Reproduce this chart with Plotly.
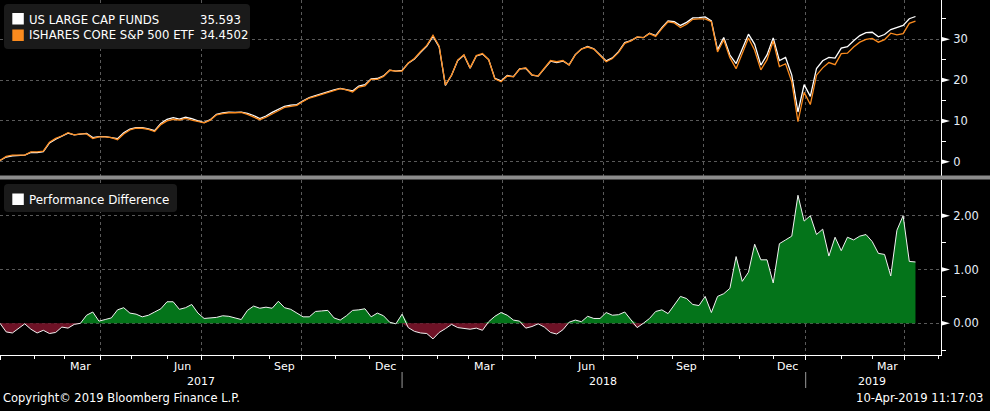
import pandas as pd
import plotly.graph_objects as go

# ---------------- data ----------------
# iShares Core S&P 500 ETF, cumulative return %, sampled every 4 business days
etf = [0.3, 1.3, 1.6, 1.6, 1.6, 2.4, 2.4, 2.6, 4.8, 5.7,
       6.3, 7.1, 6.6, 6.8, 6.8, 5.7, 6.1, 6.1, 5.9, 5.4,
       6.8, 7.8, 8.2, 8.2, 7.9, 7.4, 9.1, 10.0, 10.4, 10.2,
       10.6, 10.2, 9.8, 9.5, 10.2, 11.5, 11.8, 12.0, 12.0, 12.1,
       11.6, 11.0, 10.3, 10.9, 11.8, 12.5, 13.3, 13.6, 13.8, 14.8,
       15.6, 16.0, 16.5, 17.0, 17.5, 17.9, 17.6, 17.1, 18.3, 18.6,
       20.2, 20.2, 20.9, 22.4, 22.2, 22.2, 24.2, 25.3, 27.0, 28.5,
       31.0, 28.3, 18.8, 21.2, 24.9, 26.2, 23.0, 26.0, 26.5, 25.0,
       20.3, 19.6, 21.0, 20.8, 22.7, 23.0, 21.3, 21.0, 22.9, 24.8,
       24.5, 24.8, 23.7, 26.2, 27.6, 28.1, 27.6, 26.0, 24.5, 25.3,
       26.8, 29.0, 29.6, 30.6, 30.4, 31.4, 30.7, 32.6, 34.3, 34.0,
       32.9, 33.7, 34.9, 35.0, 35.0, 34.3, 26.9, 29.9, 25.5, 22.8,
       26.7, 30.3, 27.3, 22.5, 25.0, 29.6, 23.3, 24.0, 19.6, 9.8,
       17.0, 14.0, 21.2, 23.0, 24.3, 23.8, 26.5, 26.6, 28.1, 29.3,
       30.0, 30.2, 29.3, 29.9, 31.5, 31.1, 31.4, 33.9, 34.45]

# Performance difference (US Large Cap Funds minus ETF), same dates
perf_diff = [0.0, -0.16, -0.18, -0.09, -0.01, -0.11, -0.18, -0.13, -0.19, -0.17,
             -0.07, -0.09, -0.02, 0.0, 0.15, 0.21, 0.04, 0.07, 0.10, 0.25,
             0.29, 0.19, 0.17, 0.12, 0.15, 0.21, 0.27, 0.40, 0.40, 0.26,
             0.29, 0.35, 0.19, 0.09, 0.10, 0.11, 0.14, 0.13, 0.10, 0.07,
             0.24, 0.32, 0.28, 0.30, 0.28, 0.41, 0.29, 0.26, 0.19, 0.12,
             0.12, 0.22, 0.23, 0.24, 0.10, 0.06, 0.14, 0.24, 0.25, 0.27,
             0.12, 0.19, 0.14, 0.02, -0.01, 0.17, -0.08, -0.15, -0.18, -0.19,
             -0.29, -0.17, -0.10, -0.02, -0.08, -0.10, -0.11, -0.09, -0.13, 0.03,
             0.13, 0.20, 0.15, 0.06, 0.04, -0.09, -0.06, -0.01, -0.07, -0.17,
             -0.20, -0.12, 0.02, 0.06, 0.03, 0.13, 0.09, 0.09, 0.20, 0.15,
             0.16, 0.21, 0.07, -0.08, 0.0, 0.09, 0.22, 0.25, 0.18, 0.33,
             0.50, 0.46, 0.35, 0.33, 0.50, 0.20, 0.50, 0.55, 0.65, 1.24,
             0.78, 0.95, 1.47, 1.18, 1.18, 0.75, 1.48, 1.55, 1.62, 2.38,
             1.90, 2.00, 1.65, 1.75, 1.25, 1.60, 1.35, 1.60, 1.55, 1.62,
             1.65, 1.52, 1.30, 1.28, 0.88, 1.73, 2.00, 1.15, 1.14]

funds_name = "US LARGE CAP FUNDS"
etf_name = "ISHARES CORE S&P 500 ETF"
funds_last = "35.593"
etf_last = "34.4502"
diff_name = "Performance Difference"

top_ticks = [0, 10, 20, 30]
top_minor = [5, 15, 25, 35]
bot_ticks = [0, 1, 2]
bot_minor = [-0.5, 0.5, 1.5]

month_labels = ["Mar", "Jun", "Sep", "Dec", "Mar", "Jun", "Sep", "Dec", "Mar"]
month_label_dates = ["2017-03-15", "2017-06-15", "2017-09-15", "2017-12-15",
                     "2018-03-15", "2018-06-15", "2018-09-14", "2018-12-14",
                     "2019-03-15"]
year_labels = ["2017", "2018", "2019"]
year_label_dates = ["2017-07-03", "2018-07-02", "2019-03-01"]
year_bounds = ["2018-01-01", "2019-01-01"]

copyright_text = "Copyright\u00a9 2019 Bloomberg Finance L.P."
stamp_text = "10-Apr-2019 11:17:03"

# ---------------- derived ----------------
dates = pd.bdate_range(end="2019-04-10", periods=len(etf), freq="4B")
funds = [round(e + d, 4) for e, d in zip(etf, perf_diff)]
diff_pos = [max(d, 0) for d in perf_diff]
diff_neg = [min(d, 0) for d in perf_diff]

bday = pd.offsets.BDay()
quarter_starts = [bday.rollforward(d) for d in pd.date_range("2017-01-01", "2019-04-01", freq="QS")]
month_starts = [bday.rollforward(d) for d in pd.date_range("2017-01-01", "2019-05-01", freq="MS")]

# ---------------- layout helpers ----------------
W, H = 990, 411
ML, MR, MT, MB = 0, 49, 0, 56
PW = W - ML - MR
PH = H - MT - MB


def px(x):
    return x / PW


def py(y):
    return 1 - y / PH


def rounded_box(x0, y0, x1, y1, r=4):
    # pixel path relative to the top-left paper corner (y up is positive)
    a, b, c, d = x0, -y0, x1, -y1
    return (f"M{a + r},{b} L{c - r},{b} Q{c},{b} {c},{b - r} "
            f"L{c},{d + r} Q{c},{d} {c - r},{d} L{a + r},{d} "
            f"Q{a},{d} {a},{d + r} L{a},{b - r} Q{a},{b} {a + r},{b} Z")


FONT = "DejaVu Sans, sans-serif"
TXT = "#ffffff"
TICK_TXT = "#e6eef8"
GRID = "#5a5a5a"
ORANGE = "#fb8b1e"
GREEN = "#04741a"
MAROON = "#6e1226"

fig = go.Figure()

# top panel
fig.add_trace(go.Scatter(x=dates, y=funds, mode="lines", name=funds_name,
                         line=dict(color="#ffffff", width=1.3), xaxis="x", yaxis="y"))
fig.add_trace(go.Scatter(x=dates, y=etf, mode="lines", name=etf_name,
                         line=dict(color=ORANGE, width=1.3), xaxis="x", yaxis="y"))
# bottom panel
fig.add_trace(go.Scatter(x=dates, y=diff_pos, mode="lines", fill="tozeroy",
                         fillcolor=GREEN, line=dict(color="rgba(0,0,0,0)", width=0),
                         xaxis="x", yaxis="y2", showlegend=False))
fig.add_trace(go.Scatter(x=dates, y=diff_neg, mode="lines", fill="tozeroy",
                         fillcolor=MAROON, line=dict(color="rgba(0,0,0,0)", width=0),
                         xaxis="x", yaxis="y2", showlegend=False))
fig.add_trace(go.Scatter(x=dates, y=perf_diff, mode="lines", name=diff_name,
                         line=dict(color="#f2f2f2", width=1.0), xaxis="x", yaxis="y2"))

top_lo = (161.7 - 176) / 4.08
top_hi = 161.7 / 4.08
bot_lo = (323.3 - 355) / 53.8
bot_hi = (323.3 - 179.5) / 53.8

yaxis_common = dict(
    side="right", anchor="x", showline=True, linecolor="#ffffff", linewidth=1,
    ticks="", showgrid=True, gridcolor=GRID, griddash="dot", gridwidth=1,
    zeroline=False, ticklabelstandoff=9,
    tickfont=dict(family=FONT, size=11.5, color=TICK_TXT),
)

fig.update_layout(
    width=W, height=H,
    margin=dict(l=ML, r=MR, t=MT, b=MB, pad=0),
    paper_bgcolor="#000000", plot_bgcolor="#000000",
    showlegend=False, hovermode=False,
    xaxis=dict(
        type="date", range=["2017-01-02", "2019-05-02 12:00"],
        rangebreaks=[dict(bounds=["sat", "mon"])],
        anchor="y2", showline=True, linecolor="#ffffff", linewidth=1,
        tickmode="array", tickvals=quarter_starts, showticklabels=False,
        ticks="outside", ticklen=4, tickcolor="#ffffff", tickwidth=1,
        showgrid=True, gridcolor=GRID, griddash="dot", gridwidth=1,
        zeroline=False,
        minor=dict(tickmode="array", tickvals=month_starts, ticks="outside",
                   ticklen=3, tickcolor="#ffffff", showgrid=False),
    ),
    yaxis=dict(domain=[py(176), 1], range=[top_lo, top_hi], tickmode="array",
               tickvals=top_ticks, ticktext=[str(v) for v in top_ticks],
               minor=dict(tickmode="array", tickvals=top_minor, ticks="outside",
                          ticklen=4, tickcolor="#ffffff", showgrid=False),
               **yaxis_common),
    yaxis2=dict(domain=[0, py(179.5)], range=[bot_lo, bot_hi], tickmode="array",
                tickvals=bot_ticks, ticktext=[f"{v:.2f}" for v in bot_ticks],
                minor=dict(tickmode="array", tickvals=bot_minor, ticks="outside",
                           ticklen=4, tickcolor="#ffffff", showgrid=False),
                **yaxis_common),
)

shapes = []
# separator bar between panels
shapes.append(dict(type="rect", xref="paper", yref="paper", x0=0, x1=W / PW,
                   y0=py(179.5), y1=py(175.5), fillcolor="#8c8c8c",
                   line=dict(width=0), layer="above"))
# tick triangles
for v in top_ticks:
    shapes.append(dict(type="path", xref="paper", xsizemode="pixel", xanchor=1,
                       yref="y", ysizemode="pixel", yanchor=v,
                       path="M0,2.5 L9,0 L0,-2.5 Z", fillcolor="#ffffff",
                       line=dict(width=0), layer="above"))
for v in bot_ticks:
    shapes.append(dict(type="path", xref="paper", xsizemode="pixel", xanchor=1,
                       yref="y2", ysizemode="pixel", yanchor=v,
                       path="M0,2.5 L9,0 L0,-2.5 Z", fillcolor="#ffffff",
                       line=dict(width=0), layer="above"))
# legend boxes (rounded)
for (bx0, by0, bx1, by1) in [(4, 4, 250, 49), (4, 184, 177, 212)]:
    shapes.append(dict(type="path", xref="paper", xsizemode="pixel", xanchor=0,
                       yref="paper", ysizemode="pixel", yanchor=1,
                       path=rounded_box(bx0, by0, bx1, by1), fillcolor="#1a1a1a",
                       line=dict(width=0), layer="above"))
# legend swatches
for (y0, y1, col) in [(13, 24.5, "#ffffff"), (29.5, 41, ORANGE), (193.5, 205, "#ffffff")]:
    shapes.append(dict(type="rect", xref="paper", yref="paper", x0=px(12.3), x1=px(23.8),
                       y0=py(y1), y1=py(y0), fillcolor=col, line=dict(width=0),
                       layer="above"))
# year separators
for d in year_bounds:
    shapes.append(dict(type="line", xref="x", yref="paper", x0=d, x1=d,
                       y0=py(388), y1=py(372), line=dict(color="#9a9a9a", width=1)))
fig.update_layout(shapes=shapes)

ann = []


def text(x, y, s, size=12, anchor="left", xref="paper", color=TXT):
    ann.append(dict(x=x, y=y, xref=xref, yref="paper", text=s, showarrow=False,
                    xanchor=anchor, yanchor="middle",
                    font=dict(family=FONT, size=size, color=color)))


text(px(27), py(19.5), funds_name, size=11.7)
text(px(198), py(19.5), funds_last, size=11.7)
text(px(27), py(35.5), etf_name, size=11.7)
text(px(198), py(35.5), etf_last, size=11.7)
text(px(27), py(199.5), diff_name, size=11.9)

for lab, d in zip(month_labels, month_label_dates):
    ann.append(dict(x=d, y=py(366), xref="x", yref="paper", text=lab, showarrow=False,
                    xanchor="center", yanchor="middle",
                    font=dict(family=FONT, size=11, color=TXT)))
for lab, d in zip(year_labels, year_label_dates):
    ann.append(dict(x=d, y=py(381.5), xref="x", yref="paper", text=lab, showarrow=False,
                    xanchor="center", yanchor="middle",
                    font=dict(family=FONT, size=11, color=TXT)))

text(px(1), py(398), copyright_text, size=11.5)
text(px(985), py(398), stamp_text, size=11.6, anchor="right")

fig.update_layout(annotations=ann)

fig.write_html(
    "out.html",
    config={"displayModeBar": False},
    post_script="document.body.style.margin='0px';document.body.style.background='#000';",
)
